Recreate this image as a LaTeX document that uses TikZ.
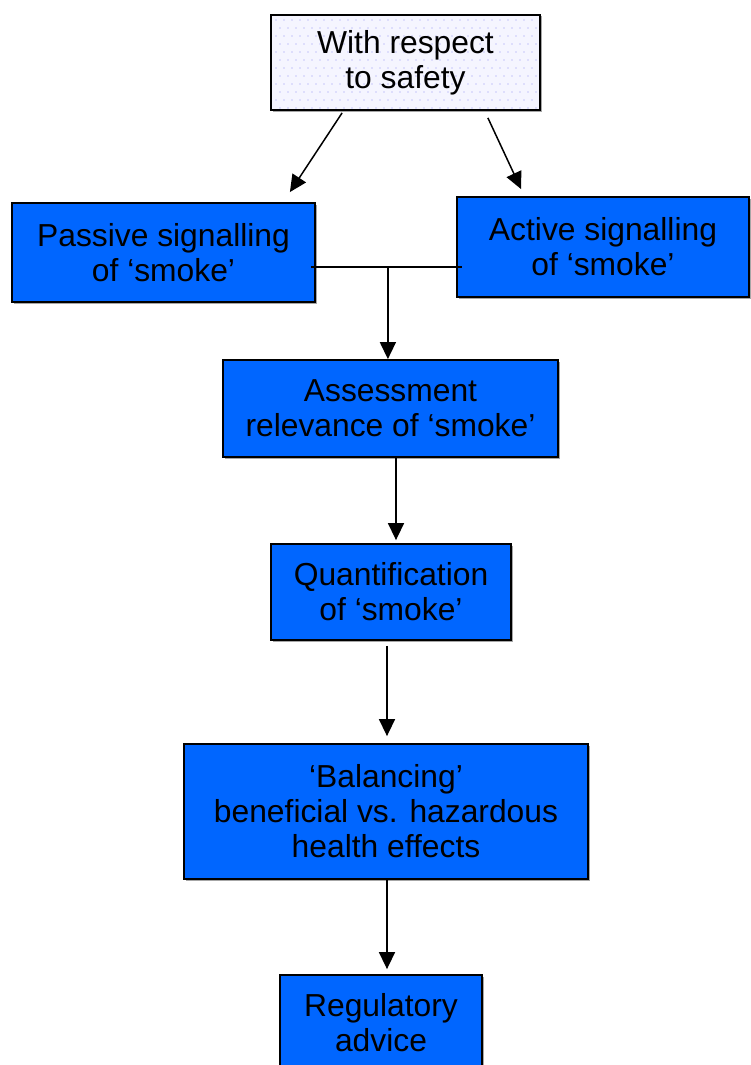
\documentclass[tikz,border=0pt]{standalone}
\usepackage{fontspec}
\setmainfont{Liberation Sans}
\usetikzlibrary{arrows.meta,calc,shadows}
\definecolor{boxblue}{RGB}{0,102,255}
\definecolor{dotcol}{RGB}{200,200,250}
\begin{document}
\begin{tikzpicture}[x=1pt,y=-1pt,
  every node/.style={font=\fontsize{31.8}{35}\selectfont, align=center, inner sep=0pt},
  bluebox/.style={draw=black, line width=1.8pt, fill=boxblue, rectangle,
     drop shadow={shadow xshift=1.5pt, shadow yshift=-1.5pt, fill=gray!70, opacity=1}},
  arr/.style={line width=1.5pt, -{Triangle[length=17pt,width=16pt]}},
  conn/.style={line width=1.5pt}]
\useasboundingbox (0,0) rectangle (750,1065);
% top box background, shadow and dots
\fill[gray!70] (272.5,16.5) rectangle (541.5,111.5);
\fill[white!96!blue] (271,15) rectangle (540,110);
\foreach \r in {0,...,11}{
  \pgfmathsetmacro{\yy}{20+8*\r}
  \pgfmathsetmacro{\off}{mod(\r,2)*4}
  \foreach \c in {0,...,32}{
    \fill[dotcol] ({276+\off+8*\c},\yy) circle (0.9);
  }
}
\node[draw=black, line width=1.8pt, minimum width=269pt, minimum height=95pt]
  (top) at (405.5,62.5) {With respect\\to safety};
\node[bluebox, minimum width=303pt, minimum height=99pt] (passive) at (163.5,252.5) {Passive signalling\\of ‘smoke’};
\node[bluebox, minimum width=292pt, minimum height=100pt] (active) at (603,247) {Active signalling\\of ‘smoke’};
\node[bluebox, minimum width=335pt, minimum height=97pt] (assess) at (390.5,408.5) {Assessment\\relevance of ‘smoke’};
\node[bluebox, minimum width=240pt, minimum height=96pt] (quant) at (391,592) {Quantification\\of ‘smoke’};
\node[bluebox, minimum width=404pt, minimum height=135pt] (balance) at (386,811.5) {‘Balancing’\\beneficial vs. hazardous\\health effects};
\node[bluebox, minimum width=202pt, minimum height=96pt] (reg) at (381,1023) {Regulatory\\advice};
% connectors
\draw[arr] ($(top.south west)+(72,2)$) -- ($(passive.north east)+(-26,-10)$);
\draw[arr] ($(top.south east)+(-53,7)$) -- ($(active.north west)+(65,-7)$);
\coordinate (j) at ($(passive.east)+(72,14.5)$);
\draw[conn] ($(passive.east)+(-5,14.5)$) -- ($(active.west)+(6,20)$);
\draw[arr] (j) -- (j |- assess.north);
\draw[arr] ($(assess.south)+(5.5,0)$) -- ($(quant.north)+(5,-3)$);
\draw[arr] ($(quant.south)+(-4,5)$) -- ($(balance.north)+(1,-7)$);
\draw[arr] ($(balance.south)+(1,0)$) -- ($(reg.north)+(6,-5)$);
\end{tikzpicture}
\end{document}
